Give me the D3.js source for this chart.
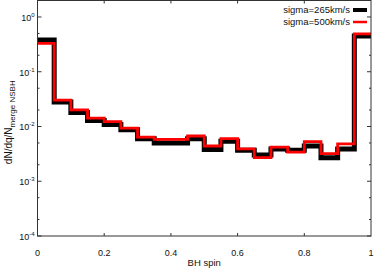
<!DOCTYPE html>
<html>
<head>
<meta charset="utf-8">
<script src="https://cdn.jsdelivr.net/npm/d3@7"></script>
<style>
  body { margin: 0; background: #fff; }
  text { font-family: "Liberation Sans", Arial, sans-serif; fill: #111; }
</style>
</head>
<body>
<div id="chart"></div>
<script>
// bin edges (width 0.05) and values
const binStarts = [0, 0.05, 0.1, 0.15, 0.2, 0.25, 0.3, 0.35, 0.4, 0.45,
                   0.5, 0.55, 0.6, 0.65, 0.7, 0.75, 0.8, 0.85, 0.9, 0.95];
const sigma265 = [0.38, 0.028, 0.018, 0.0128, 0.0109, 0.0087, 0.006, 0.005, 0.005, 0.006,
                  0.0038, 0.0054, 0.0037, 0.003, 0.0039, 0.0037, 0.0044, 0.0027, 0.0039, 0.45];
const sigma500 = [0.33, 0.0303, 0.0201, 0.0142, 0.0123, 0.0093, 0.0064, 0.0058, 0.0058, 0.0067,
                  0.0044, 0.006, 0.0039, 0.0027, 0.0042, 0.0034, 0.0053, 0.0032, 0.0048, 0.49];
const seriesNames = ['sigma=265km/s', 'sigma=500km/s'];
const xTicks = [0, 0.2, 0.4, 0.6, 0.8, 1];
const yTicks = [1e-4, 1e-3, 1e-2, 1e-1, 1];

const width = 374, height = 269;
const margin = {top: 0.5, right: 3, bottom: 33, left: 37.5};

const svg = d3.select('#chart').append('svg')
  .attr('width', width)
  .attr('height', height);

const x = d3.scaleLinear().domain([0, 1]).range([margin.left, width - margin.right]);
const y = d3.scaleLog().domain([1e-4, 2]).range([height - margin.bottom, margin.top]);

const axisColor = '#333';

// minor y ticks at 2 and 5 of each decade
const minor = [];
[1e-4, 1e-3, 1e-2, 1e-1, 1].forEach(d => { [2, 5].forEach(m => { if (d * m < 2) minor.push(d * m); }); });

const ticks = svg.append('g').attr('stroke', axisColor).attr('stroke-width', 1);
yTicks.forEach(v => {
  ticks.append('line').attr('x1', x(0)).attr('x2', x(0) + 4).attr('y1', y(v)).attr('y2', y(v));
  ticks.append('line').attr('x1', x(1)).attr('x2', x(1) - 4).attr('y1', y(v)).attr('y2', y(v));
});
minor.forEach(v => {
  ticks.append('line').attr('x1', x(0)).attr('x2', x(0) + 2).attr('y1', y(v)).attr('y2', y(v));
  ticks.append('line').attr('x1', x(1)).attr('x2', x(1) - 2).attr('y1', y(v)).attr('y2', y(v));
});
xTicks.slice(1, -1).forEach(v => {
  ticks.append('line').attr('x1', x(v)).attr('x2', x(v)).attr('y1', y(1e-4)).attr('y2', y(1e-4) - 3);
  ticks.append('line').attr('x1', x(v)).attr('x2', x(v)).attr('y1', y(2)).attr('y2', y(2) + 3);
});

// step histograms
function stepPath(vals) {
  const pts = binStarts.map((b, i) => [b, vals[i]]);
  pts.push([1, vals[vals.length - 1]]);
  return d3.line().x(d => x(d[0])).y(d => y(d[1])).curve(d3.curveStepAfter)(pts);
}

svg.append('path').attr('d', stepPath(sigma265))
  .attr('fill', 'none').attr('stroke', '#000').attr('stroke-width', 5);
svg.append('path').attr('d', stepPath(sigma500))
  .attr('fill', 'none').attr('stroke', '#f00').attr('stroke-width', 2.8);

// frame
svg.append('rect')
  .attr('x', x(0)).attr('y', y(2))
  .attr('width', x(1) - x(0)).attr('height', y(1e-4) - y(2))
  .attr('fill', 'none').attr('stroke', axisColor).attr('stroke-width', 1);

// y tick labels
yTicks.forEach(v => {
  const t = svg.append('text')
    .attr('x', x(0) - 3).attr('y', y(v) + 4)
    .attr('text-anchor', 'end')
    .style('font-size', '9px');
  t.append('tspan').text('10');
  t.append('tspan').attr('dy', -4).style('font-size', '6px').text(Math.round(Math.log10(v)));
});

// x tick labels
svg.selectAll('.xl').data(xTicks).enter().append('text')
  .attr('x', d => x(d)).attr('y', 256)
  .attr('text-anchor', 'middle')
  .style('font-size', '9px')
  .text(d => d3.format('')(d));

svg.append('text')
  .attr('x', (x(0) + x(1)) / 2).attr('y', 266)
  .attr('text-anchor', 'middle')
  .style('font-size', '9.5px')
  .text('BH spin');

// y axis title
const yl = svg.append('text')
  .attr('transform', `translate(12, ${(y(1e-4) + y(2)) / 2 + 4}) rotate(-90)`)
  .attr('text-anchor', 'middle')
  .style('font-size', '10px');
yl.append('tspan').text('dN/dq/N');
yl.append('tspan').attr('dy', 3).style('font-size', '8px').text('merge NSBH');

// legend
const legend = svg.append('g');
seriesNames.forEach((name, i) => {
  const ly = 10 + i * 12;
  legend.append('text')
    .attr('x', 350).attr('y', ly + 3)
    .attr('text-anchor', 'end')
    .style('font-size', '9.5px')
    .text(name);
  legend.append('line')
    .attr('x1', 353).attr('x2', 367).attr('y1', ly).attr('y2', ly)
    .attr('stroke', i === 0 ? '#000' : '#f00')
    .attr('stroke-width', i === 0 ? 4 : 2.5);
});
</script>
</body>
</html>
